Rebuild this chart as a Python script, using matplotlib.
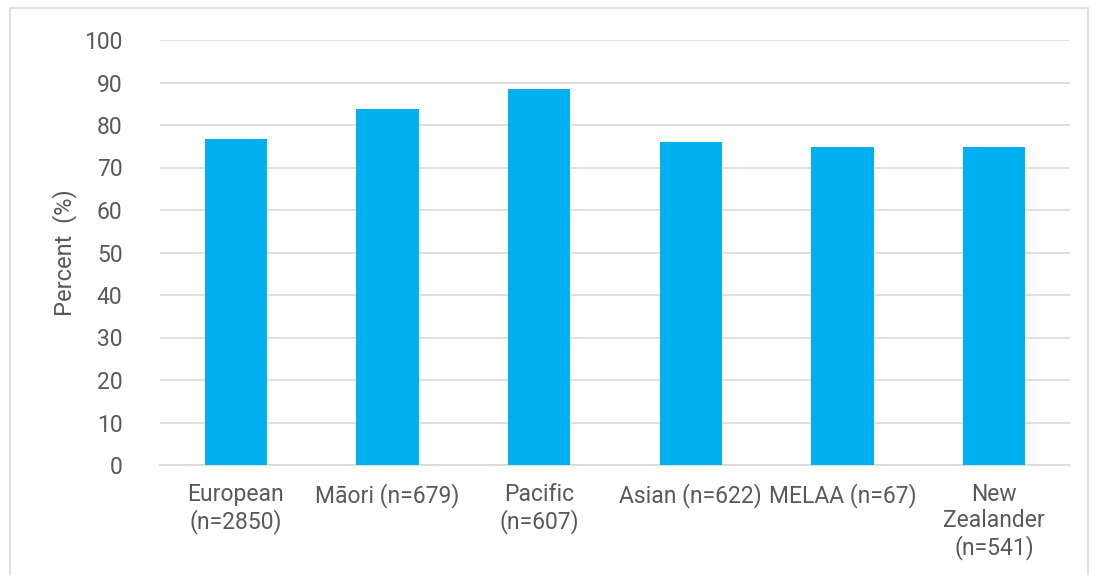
import matplotlib
matplotlib.use("Agg")
import matplotlib.pyplot as plt
from matplotlib.patches import Rectangle

plt.rcParams['font.family'] = ['Roboto', 'DejaVu Sans']

categories = ["European\n(n=2850)", "Māori (n=679)", "Pacific\n(n=607)",
              "Asian (n=622)", "MELAA (n=67)", "New\nZealander\n(n=541)"]
percent = [76.6, 83.8, 88.5, 76.1, 74.9, 74.9]
y_ticks = [0, 10, 20, 30, 40, 50, 60, 70, 80, 90, 100]

text_color = "#595959"
grid_color = "#d9d9d9"
bar_color = "#00b0f0"

fig = plt.figure(figsize=(10.97, 5.75), dpi=100)
ax = fig.add_axes([160 / 1097, 1 - 465 / 575, (1070 - 160) / 1097, (465 - 40) / 575])

x = range(len(categories))
ax.bar(x, percent, width=0.41, color=bar_color, zorder=3)

ax.set_xlim(-0.5, len(categories) - 0.5)
ax.set_ylim(0, 100)
ax.set_yticks(y_ticks)
ax.set_xticks(list(x))
ax.set_xticklabels(categories, fontsize=16.5, color=text_color, linespacing=1.17)
ax.tick_params(axis='y', labelsize=16.5, labelcolor=text_color, length=0, pad=27)
ax.tick_params(axis='x', length=0, pad=13)
ax.grid(axis='y', color=grid_color, linewidth=1.2, zorder=0)
for side in ("top", "right", "left"):
    ax.spines[side].set_visible(False)
ax.spines["bottom"].set_color(grid_color)
ax.spines["bottom"].set_linewidth(1.2)
ax.set_ylabel("Percent  (%)", fontsize=17, color=text_color, labelpad=5)

# chart area frame
fig.patches.append(Rectangle((10 / 1097, -0.05), (1088 - 10) / 1097, 1.05 - 8 / 575,
                             transform=fig.transFigure, fill=False,
                             edgecolor=grid_color, linewidth=1.2))

fig.savefig("out.png", dpi=100)
